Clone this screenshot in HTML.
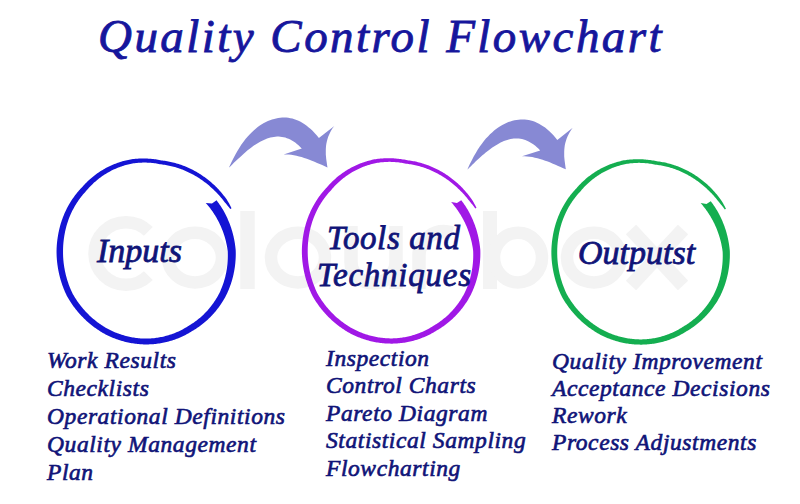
<!DOCTYPE html>
<html><head><meta charset="utf-8">
<style>
html,body{margin:0;padding:0;background:#fff;}
body{width:800px;height:504px;position:relative;overflow:hidden;font-family:"Liberation Serif",serif;}
.t{position:absolute;white-space:nowrap;font-style:italic;line-height:1;}
svg{position:absolute;left:0;top:0;}
.title{color:#16169c;letter-spacing:2.45px;-webkit-text-stroke:0.85px #16169c;}
.lbl{color:#101478;-webkit-text-stroke:0.8px #101478;}
.lst{color:#101478;letter-spacing:0.58px;-webkit-text-stroke:0.65px #101478;}
.lst div{height:27.8px;}
</style></head><body>
<svg width="800" height="504" viewBox="0 0 800 504">
<g fill="none" stroke="#f3f3f3" stroke-width="12.5" stroke-linecap="butt"><path d="M148.3 275.6 A31.5 31.3 0 1 1 148.3 231.4"/><ellipse cx="195" cy="257.6" rx="27" ry="24.8"/><ellipse cx="298" cy="257.6" rx="27" ry="24.8"/><ellipse cx="594" cy="257.6" rx="27" ry="24.8"/><path d="M247.5 211 V289" stroke-width="14.5"/><path d="M351 226 V262 A22.5 21 0 0 0 396 262 V226 M396 262 V289" stroke-width="13.5"/><path d="M419 289 V256 A25 24 0 0 1 452 233" stroke-width="13.5"/><path d="M490 211 V289" stroke-width="14"/><ellipse cx="518" cy="257.6" rx="24" ry="24.8"/><path d="M631 229.5 L683 285.5 M683 229.5 L631 285.5" stroke-width="14"/></g>
<path transform="translate(0 0)" d="M229.2 167.1 L231.2 162.7 L233.3 158.5 L235.3 154.7 L237.4 151.1 L239.4 147.7 L241.4 144.6 L243.5 141.8 L245.5 139.1 L247.5 136.7 L249.6 134.5 L251.6 132.4 L253.7 130.5 L255.7 128.7 L257.7 127.1 L259.8 125.6 L261.8 124.3 L263.9 123.1 L265.9 122.0 L267.9 121.0 L270.0 120.2 L272.0 119.5 L274.1 118.9 L276.1 118.4 L278.1 118.0 L280.2 117.8 L282.2 117.6 L284.2 117.6 L286.3 117.6 L288.3 117.8 L290.4 118.2 L292.4 118.6 L294.4 119.2 L296.5 119.9 L298.5 120.8 L300.6 121.8 L302.6 123.0 L304.6 124.3 L306.7 125.7 L308.7 127.4 L310.7 129.1 L312.8 131.1 L314.8 133.2 L316.9 135.5 L318.9 138.0 L334.3 125.9 L334.3 125.9 L332.7 128.1 L331.3 130.3 L330.1 132.5 L329.1 134.7 L328.2 136.8 L327.5 139.0 L326.9 141.2 L326.4 143.4 L326.1 145.6 L325.9 147.8 L325.8 150.0 L325.8 152.2 L325.8 154.4 L326.0 156.6 L326.2 158.7 L326.5 160.9 L326.8 163.1 L327.1 165.3 L327.5 167.5 L327.4 167.4 L324.8 166.3 L322.2 165.1 L319.7 164.0 L317.1 162.9 L314.5 161.8 L311.9 160.7 L309.4 159.7 L306.8 158.8 L304.2 157.9 L301.6 157.1 L299.1 156.4 L296.5 155.8 L293.9 155.2 L291.3 154.8 L288.8 154.5 L286.2 154.4 L283.6 154.4 L301.8 148.5 L301.8 148.6 L300.2 146.9 L298.5 145.3 L296.9 143.9 L295.2 142.6 L293.6 141.5 L291.9 140.5 L290.2 139.6 L288.6 138.8 L286.9 138.2 L285.3 137.6 L283.6 137.2 L282.0 136.9 L280.4 136.7 L278.7 136.6 L277.1 136.6 L275.4 136.7 L273.8 136.9 L272.1 137.2 L270.4 137.6 L268.8 138.0 L267.1 138.6 L265.5 139.2 L263.9 139.9 L262.2 140.7 L260.6 141.6 L258.9 142.5 L257.2 143.5 L255.6 144.5 L253.9 145.6 L252.3 146.8 L250.7 148.0 L249.0 149.3 L247.3 150.6 L245.7 152.0 L244.0 153.4 L242.4 154.9 L240.8 156.4 L239.1 157.9 L237.4 159.4 L235.8 161.0 L234.1 162.6 L232.5 164.3 L230.8 165.9 L229.2 167.6 Z" fill="#8789d4"/><path transform="translate(238.4 1.9)" d="M229.2 167.1 L231.2 162.7 L233.3 158.5 L235.3 154.7 L237.4 151.1 L239.4 147.7 L241.4 144.6 L243.5 141.8 L245.5 139.1 L247.5 136.7 L249.6 134.5 L251.6 132.4 L253.7 130.5 L255.7 128.7 L257.7 127.1 L259.8 125.6 L261.8 124.3 L263.9 123.1 L265.9 122.0 L267.9 121.0 L270.0 120.2 L272.0 119.5 L274.1 118.9 L276.1 118.4 L278.1 118.0 L280.2 117.8 L282.2 117.6 L284.2 117.6 L286.3 117.6 L288.3 117.8 L290.4 118.2 L292.4 118.6 L294.4 119.2 L296.5 119.9 L298.5 120.8 L300.6 121.8 L302.6 123.0 L304.6 124.3 L306.7 125.7 L308.7 127.4 L310.7 129.1 L312.8 131.1 L314.8 133.2 L316.9 135.5 L318.9 138.0 L334.3 125.9 L334.3 125.9 L332.7 128.1 L331.3 130.3 L330.1 132.5 L329.1 134.7 L328.2 136.8 L327.5 139.0 L326.9 141.2 L326.4 143.4 L326.1 145.6 L325.9 147.8 L325.8 150.0 L325.8 152.2 L325.8 154.4 L326.0 156.6 L326.2 158.7 L326.5 160.9 L326.8 163.1 L327.1 165.3 L327.5 167.5 L327.4 167.4 L324.8 166.3 L322.2 165.1 L319.7 164.0 L317.1 162.9 L314.5 161.8 L311.9 160.7 L309.4 159.7 L306.8 158.8 L304.2 157.9 L301.6 157.1 L299.1 156.4 L296.5 155.8 L293.9 155.2 L291.3 154.8 L288.8 154.5 L286.2 154.4 L283.6 154.4 L301.8 148.5 L301.8 148.6 L300.2 146.9 L298.5 145.3 L296.9 143.9 L295.2 142.6 L293.6 141.5 L291.9 140.5 L290.2 139.6 L288.6 138.8 L286.9 138.2 L285.3 137.6 L283.6 137.2 L282.0 136.9 L280.4 136.7 L278.7 136.6 L277.1 136.6 L275.4 136.7 L273.8 136.9 L272.1 137.2 L270.4 137.6 L268.8 138.0 L267.1 138.6 L265.5 139.2 L263.9 139.9 L262.2 140.7 L260.6 141.6 L258.9 142.5 L257.2 143.5 L255.6 144.5 L253.9 145.6 L252.3 146.8 L250.7 148.0 L249.0 149.3 L247.3 150.6 L245.7 152.0 L244.0 153.4 L242.4 154.9 L240.8 156.4 L239.1 157.9 L237.4 159.4 L235.8 161.0 L234.1 162.6 L232.5 164.3 L230.8 165.9 L229.2 167.6 Z" fill="#8789d4"/>
<path d="M216.58 200.37 L217.26 201.26 L217.93 202.15 L218.58 203.05 L219.23 203.96 L219.87 204.88 L220.50 205.80 L221.12 206.73 L221.72 207.69 L222.31 208.65 L222.88 209.62 L223.44 210.59 L223.98 211.56 L224.52 212.55 L225.05 213.54 L225.56 214.54 L226.06 215.54 L226.56 216.56 L227.04 217.57 L227.51 218.60 L227.96 219.63 L228.41 220.66 L228.84 221.70 L229.27 222.75 L229.68 223.80 L230.07 224.86 L230.46 225.93 L230.84 226.99 L231.20 228.07 L231.54 229.15 L231.88 230.24 L232.20 231.33 L232.51 232.42 L232.80 233.52 L233.09 234.63 L233.36 235.73 L233.62 236.85 L233.86 237.96 L234.10 239.08 L234.32 240.21 L234.52 241.34 L234.72 242.47 L234.90 243.60 L235.07 244.74 L235.22 245.88 L235.36 247.03 L235.49 248.17 L235.61 249.32 L235.71 250.55 L235.76 251.88 L235.77 253.03 L235.77 254.19 L235.76 255.34 L235.73 256.50 L235.69 257.65 L235.63 258.81 L235.56 259.96 L235.48 261.12 L235.38 262.27 L235.27 263.42 L235.15 264.58 L235.01 265.73 L234.86 266.88 L234.69 268.03 L234.51 269.18 L234.31 270.32 L234.11 271.47 L233.88 272.61 L233.64 273.75 L233.39 274.89 L233.13 276.03 L232.85 277.16 L232.55 278.29 L232.24 279.42 L231.92 280.55 L231.58 281.67 L231.23 282.79 L230.87 283.90 L230.49 285.01 L230.09 286.12 L229.68 287.22 L229.26 288.32 L228.82 289.41 L228.37 290.50 L227.90 291.58 L227.42 292.66 L226.93 293.73 L226.42 294.80 L225.90 295.86 L225.32 296.98 L224.74 298.02 L224.15 299.05 L223.55 300.06 L222.93 301.08 L222.31 302.08 L221.66 303.07 L221.01 304.06 L220.34 305.04 L219.66 306.01 L218.96 306.97 L218.25 307.92 L217.53 308.87 L216.80 309.80 L216.05 310.72 L215.29 311.64 L214.52 312.54 L213.73 313.43 L212.94 314.32 L212.13 315.19 L211.31 316.05 L210.48 316.91 L209.64 317.75 L208.78 318.58 L207.92 319.40 L207.04 320.21 L206.16 321.00 L205.26 321.79 L204.35 322.56 L203.43 323.32 L202.50 324.07 L201.56 324.80 L200.61 325.52 L199.64 326.23 L198.67 326.92 L197.69 327.60 L196.70 328.27 L195.70 328.92 L194.69 329.56 L193.67 330.19 L192.65 330.80 L191.76 331.34 L190.74 331.98 L189.71 332.59 L188.68 333.19 L187.63 333.78 L186.58 334.36 L185.52 334.92 L184.45 335.46 L183.37 335.99 L182.29 336.50 L181.19 337.00 L180.09 337.48 L178.98 337.95 L177.87 338.40 L176.75 338.84 L175.62 339.26 L174.49 339.67 L173.35 340.05 L172.20 340.43 L171.05 340.78 L169.89 341.12 L168.73 341.45 L167.57 341.75 L166.40 342.04 L165.22 342.32 L164.04 342.58 L162.86 342.82 L161.68 343.04 L160.49 343.25 L159.30 343.44 L158.10 343.61 L156.90 343.77 L155.71 343.91 L154.51 344.03 L153.30 344.14 L152.10 344.23 L150.90 344.30 L149.69 344.36 L148.48 344.40 L147.28 344.42 L146.06 344.42 L144.84 344.41 L143.64 344.38 L142.43 344.33 L141.23 344.27 L140.02 344.19 L138.82 344.09 L137.62 343.98 L136.42 343.85 L135.23 343.71 L134.03 343.54 L132.84 343.36 L131.66 343.17 L130.47 342.96 L129.29 342.73 L128.11 342.49 L126.94 342.23 L125.76 341.96 L124.60 341.66 L123.44 341.36 L122.28 341.04 L121.13 340.70 L119.98 340.35 L118.84 339.98 L117.70 339.60 L116.57 339.20 L115.44 338.79 L114.32 338.36 L113.21 337.92 L112.10 337.47 L111.00 337.00 L109.90 336.51 L108.82 336.01 L107.74 335.50 L106.63 334.96 L105.56 334.39 L104.51 333.82 L103.47 333.23 L102.44 332.63 L101.41 332.02 L100.40 331.40 L99.39 330.76 L98.39 330.11 L97.41 329.45 L96.43 328.78 L95.45 328.09 L94.49 327.40 L93.54 326.69 L92.60 325.97 L91.67 325.24 L90.74 324.50 L89.83 323.75 L88.93 322.98 L88.03 322.21 L87.15 321.42 L86.28 320.63 L85.41 319.82 L84.56 319.01 L83.72 318.18 L82.89 317.35 L82.07 316.51 L81.25 315.65 L80.45 314.79 L79.66 313.92 L78.88 313.04 L78.12 312.15 L77.36 311.25 L76.61 310.34 L75.88 309.43 L75.15 308.51 L74.44 307.58 L73.74 306.64 L73.05 305.69 L72.37 304.74 L71.70 303.77 L71.05 302.80 L70.40 301.83 L69.77 300.84 L69.15 299.85 L68.54 298.86 L67.94 297.85 L67.36 296.84 L66.74 295.65 L66.24 294.59 L65.74 293.53 L65.26 292.47 L64.80 291.40 L64.34 290.33 L63.90 289.25 L63.47 288.17 L63.06 287.08 L62.65 285.99 L62.26 284.90 L61.89 283.80 L61.52 282.70 L61.17 281.60 L60.83 280.49 L60.51 279.38 L60.19 278.26 L59.89 277.15 L59.61 276.03 L59.33 274.91 L59.07 273.78 L58.82 272.66 L58.59 271.53 L58.36 270.40 L58.16 269.27 L57.96 268.14 L57.77 267.00 L57.60 265.87 L57.44 264.73 L57.29 263.59 L57.16 262.44 L57.03 261.30 L56.93 260.16 L56.83 259.01 L56.75 257.87 L56.68 256.72 L56.63 255.57 L56.59 254.42 L56.56 253.28 L56.54 252.13 L56.54 250.98 L56.57 249.83 L56.60 248.68 L56.65 247.54 L56.72 246.39 L56.79 245.25 L56.88 244.10 L56.99 242.96 L57.10 241.82 L57.24 240.68 L57.38 239.54 L57.54 238.40 L57.71 237.27 L57.89 236.13 L58.08 235.04 L58.28 233.90 L58.49 232.78 L58.72 231.65 L58.96 230.52 L59.22 229.40 L59.49 228.29 L59.77 227.17 L60.06 226.06 L60.37 224.95 L60.70 223.84 L61.03 222.74 L61.38 221.64 L61.75 220.55 L62.13 219.46 L62.52 218.38 L62.92 217.29 L63.34 216.22 L63.78 215.15 L64.22 214.08 L64.68 213.02 L65.16 211.97 L65.64 210.92 L66.15 209.88 L66.66 208.84 L67.19 207.81 L67.73 206.78 L68.29 205.77 L68.85 204.76 L69.44 203.75 L70.03 202.76 L70.64 201.77 L71.26 200.79 L71.89 199.82 L72.54 198.85 L73.20 197.90 L73.88 196.95 L74.56 196.01 L75.26 195.08 L75.97 194.16 L76.70 193.25 L77.43 192.35 L78.18 191.45 L78.94 190.57 L79.71 189.70 L80.50 188.84 L81.30 187.99 L82.03 187.22 L82.75 186.40 L83.53 185.53 L84.32 184.67 L85.13 183.82 L85.95 182.98 L86.79 182.15 L87.63 181.33 L88.49 180.52 L89.36 179.72 L90.24 178.94 L91.13 178.16 L92.03 177.40 L92.95 176.65 L93.87 175.92 L94.81 175.19 L95.76 174.48 L96.72 173.78 L97.68 173.10 L98.66 172.43 L99.65 171.77 L100.65 171.12 L101.66 170.49 L102.68 169.88 L103.70 169.28 L104.74 168.69 L105.78 168.11 L106.84 167.56 L107.90 167.01 L108.97 166.48 L110.05 165.97 L111.13 165.47 L112.22 164.99 L113.32 164.52 L114.43 164.07 L115.54 163.63 L116.66 163.21 L117.79 162.81 L118.92 162.42 L120.06 162.05 L121.20 161.69 L122.35 161.35 L123.51 161.03 L124.67 160.72 L125.83 160.43 L127.00 160.16 L128.17 159.90 L129.34 159.66 L130.59 159.44 L131.78 159.28 L132.97 159.12 L134.16 158.99 L135.35 158.87 L136.55 158.77 L137.74 158.69 L138.93 158.62 L140.13 158.57 L141.32 158.54 L142.52 158.53 L143.71 158.53 L144.91 158.55 L146.10 158.58 L147.29 158.62 L148.49 158.68 L149.68 158.75 L150.86 158.84 L152.05 158.94 L153.23 159.06 L154.42 159.20 L155.60 159.36 L156.77 159.53 L157.95 159.72 L159.12 159.92 L160.29 160.14 L161.45 160.38 L162.42 160.54 L163.60 160.68 L164.78 160.85 L165.95 161.03 L167.13 161.23 L168.30 161.44 L169.47 161.67 L170.64 161.92 L171.80 162.18 L172.96 162.46 L174.12 162.75 L175.28 163.06 L176.43 163.39 L177.58 163.73 L178.72 164.08 L179.86 164.46 L181.00 164.84 L182.13 165.25 L183.26 165.66 L184.38 166.10 L185.49 166.54 L186.61 167.01 L187.71 167.48 L188.81 167.98 L189.90 168.48 L190.99 169.00 L192.07 169.54 L193.15 170.09 L194.21 170.66 L195.27 171.24 L196.33 171.83 L197.37 172.44 L198.41 173.07 L199.44 173.70 L200.46 174.35 L201.48 175.02 L202.49 175.69 L203.48 176.38 L204.48 177.08 L205.46 177.80 L206.43 178.52 L207.40 179.26 L208.36 180.02 L209.30 180.78 L210.24 181.56 L211.17 182.35 L212.09 183.15 L213.01 183.96 L213.91 184.78 L214.80 185.62 L215.68 186.47 L216.56 187.33 L217.41 188.21 L218.25 189.10 L219.08 190.00 L219.90 190.92 L220.70 191.84 L221.50 192.78 L222.29 193.72 L223.07 194.68 L223.83 195.64 L224.58 196.62 L225.33 197.60 L226.06 198.59 L226.78 199.60 L227.45 200.63 L228.07 201.71 L228.68 202.79 L229.28 203.87 L229.86 204.97 L230.43 206.07 L230.99 207.18 L231.53 208.29 L230.24 209.06 L229.51 208.07 L228.76 207.10 L228.01 206.13 L227.24 205.18 L226.47 204.23 L225.68 203.30 L224.89 202.38 L224.13 201.44 L223.39 200.48 L222.64 199.54 L221.88 198.61 L221.10 197.68 L220.32 196.77 L219.53 195.87 L218.73 194.98 L217.92 194.10 L217.10 193.23 L216.26 192.37 L215.42 191.53 L214.57 190.69 L213.72 189.86 L212.86 189.04 L212.00 188.22 L211.12 187.42 L210.24 186.63 L209.35 185.85 L208.45 185.08 L207.54 184.33 L206.62 183.58 L205.69 182.85 L204.76 182.13 L203.81 181.42 L202.86 180.73 L201.90 180.05 L200.93 179.38 L199.96 178.72 L198.98 178.08 L197.99 177.45 L196.99 176.83 L195.99 176.23 L194.97 175.64 L193.96 175.06 L192.93 174.50 L191.90 173.95 L190.86 173.41 L189.82 172.89 L188.78 172.38 L187.72 171.88 L186.66 171.40 L185.60 170.93 L184.53 170.47 L183.45 170.03 L182.37 169.61 L181.29 169.20 L180.20 168.80 L179.11 168.42 L178.01 168.06 L176.91 167.71 L175.80 167.37 L174.69 167.05 L173.58 166.74 L172.46 166.46 L171.35 166.18 L170.22 165.92 L169.10 165.68 L167.97 165.45 L166.84 165.24 L165.71 165.05 L164.58 164.86 L163.45 164.70 L162.31 164.55 L161.01 164.37 L159.86 164.13 L158.74 163.92 L157.61 163.72 L156.48 163.53 L155.35 163.36 L154.22 163.21 L153.08 163.07 L151.94 162.95 L150.80 162.85 L149.66 162.76 L148.51 162.68 L147.37 162.63 L146.22 162.59 L145.07 162.57 L143.92 162.58 L142.78 162.60 L141.63 162.64 L140.48 162.69 L139.34 162.76 L138.19 162.85 L137.05 162.95 L135.91 163.07 L134.77 163.21 L133.63 163.36 L132.49 163.53 L131.36 163.72 L130.30 163.92 L129.18 164.17 L128.07 164.44 L126.96 164.73 L125.85 165.03 L124.75 165.35 L123.66 165.68 L122.57 166.03 L121.48 166.40 L120.41 166.78 L119.34 167.17 L118.27 167.58 L117.21 168.01 L116.16 168.45 L115.12 168.90 L114.08 169.37 L113.05 169.86 L112.03 170.36 L111.02 170.87 L110.01 171.40 L109.02 171.94 L108.03 172.49 L107.05 173.06 L106.08 173.64 L105.12 174.24 L104.17 174.85 L103.23 175.47 L102.30 176.11 L101.38 176.75 L100.47 177.41 L99.57 178.09 L98.68 178.77 L97.80 179.47 L96.93 180.18 L96.07 180.90 L95.23 181.63 L94.39 182.37 L93.57 183.12 L92.76 183.89 L91.96 184.66 L91.17 185.45 L90.39 186.24 L89.63 187.05 L88.88 187.86 L88.14 188.69 L87.41 189.52 L86.70 190.37 L85.85 191.34 L85.10 192.14 L84.37 192.96 L83.64 193.79 L82.93 194.62 L82.23 195.47 L81.54 196.32 L80.86 197.18 L80.19 198.06 L79.54 198.94 L78.90 199.83 L78.27 200.72 L77.65 201.63 L77.05 202.54 L76.45 203.46 L75.88 204.39 L75.31 205.33 L74.75 206.27 L74.21 207.22 L73.68 208.18 L73.17 209.14 L72.66 210.11 L72.17 211.09 L71.70 212.07 L71.23 213.05 L70.78 214.05 L70.34 215.05 L69.92 216.05 L69.50 217.06 L69.10 218.07 L68.72 219.09 L68.35 220.11 L67.99 221.14 L67.64 222.17 L67.30 223.20 L66.98 224.24 L66.68 225.28 L66.38 226.33 L66.10 227.38 L65.83 228.43 L65.58 229.48 L65.34 230.54 L65.11 231.60 L64.89 232.66 L64.69 233.73 L64.50 234.79 L64.32 235.86 L64.15 236.97 L63.99 238.04 L63.84 239.11 L63.70 240.18 L63.58 241.26 L63.47 242.34 L63.37 243.41 L63.28 244.49 L63.21 245.57 L63.15 246.65 L63.10 247.74 L63.07 248.82 L63.05 249.90 L63.04 250.98 L63.04 252.07 L63.04 253.15 L63.06 254.23 L63.09 255.32 L63.13 256.40 L63.19 257.48 L63.26 258.56 L63.34 259.65 L63.43 260.73 L63.54 261.81 L63.66 262.89 L63.79 263.97 L63.94 265.04 L64.09 266.12 L64.26 267.20 L64.45 268.27 L64.64 269.35 L64.84 270.42 L65.06 271.49 L65.29 272.56 L65.53 273.62 L65.78 274.69 L66.05 275.75 L66.33 276.80 L66.62 277.86 L66.92 278.91 L67.24 279.96 L67.57 281.01 L67.91 282.05 L68.26 283.10 L68.62 284.13 L69.00 285.17 L69.39 286.20 L69.79 287.23 L70.21 288.25 L70.63 289.27 L71.07 290.28 L71.52 291.29 L71.99 292.30 L72.46 293.30 L72.91 294.13 L73.46 295.09 L74.02 296.04 L74.60 296.99 L75.18 297.93 L75.78 298.87 L76.39 299.79 L77.01 300.71 L77.64 301.63 L78.28 302.53 L78.93 303.43 L79.59 304.32 L80.27 305.21 L80.95 306.08 L81.65 306.95 L82.35 307.81 L83.07 308.66 L83.80 309.51 L84.53 310.34 L85.28 311.17 L86.04 311.98 L86.81 312.79 L87.59 313.58 L88.38 314.37 L89.18 315.15 L89.99 315.92 L90.82 316.68 L91.65 317.43 L92.49 318.17 L93.34 318.90 L94.19 319.62 L95.06 320.32 L95.94 321.02 L96.83 321.71 L97.72 322.38 L98.63 323.05 L99.54 323.70 L100.46 324.35 L101.39 324.98 L102.33 325.60 L103.28 326.21 L104.24 326.80 L105.20 327.39 L106.17 327.96 L107.15 328.52 L108.14 329.06 L109.14 329.60 L110.10 330.08 L111.11 330.57 L112.14 331.05 L113.17 331.51 L114.21 331.96 L115.25 332.39 L116.30 332.81 L117.36 333.22 L118.42 333.62 L119.48 334.00 L120.55 334.36 L121.63 334.71 L122.71 335.05 L123.80 335.37 L124.89 335.68 L125.98 335.97 L127.08 336.25 L128.19 336.51 L129.29 336.76 L130.40 336.99 L131.52 337.21 L132.63 337.41 L133.75 337.60 L134.88 337.77 L136.00 337.93 L137.13 338.07 L138.26 338.19 L139.39 338.30 L140.52 338.39 L141.65 338.47 L142.79 338.53 L143.92 338.58 L145.06 338.61 L146.17 338.62 L147.31 338.60 L148.44 338.57 L149.58 338.52 L150.71 338.45 L151.84 338.36 L152.97 338.27 L154.10 338.15 L155.23 338.02 L156.35 337.87 L157.47 337.71 L158.59 337.53 L159.71 337.33 L160.82 337.12 L161.93 336.90 L163.04 336.65 L164.14 336.40 L165.24 336.12 L166.33 335.83 L167.42 335.53 L168.50 335.21 L169.58 334.87 L170.66 334.52 L171.72 334.16 L172.79 333.78 L173.84 333.38 L174.89 332.97 L175.93 332.54 L176.97 332.10 L178.00 331.65 L179.02 331.18 L180.04 330.70 L181.04 330.20 L182.04 329.69 L183.03 329.16 L184.02 328.62 L184.99 328.07 L185.96 327.50 L186.91 326.92 L187.86 326.33 L188.84 325.70 L189.88 325.06 L190.83 324.48 L191.77 323.87 L192.70 323.26 L193.62 322.63 L194.53 321.99 L195.44 321.34 L196.33 320.68 L197.22 320.00 L198.09 319.31 L198.96 318.61 L199.81 317.89 L200.66 317.17 L201.49 316.43 L202.31 315.68 L203.12 314.92 L203.93 314.15 L204.72 313.37 L205.50 312.58 L206.27 311.78 L207.02 310.96 L207.76 310.14 L208.49 309.30 L209.21 308.45 L209.92 307.60 L210.61 306.74 L211.29 305.86 L211.96 304.98 L212.62 304.09 L213.27 303.19 L213.90 302.29 L214.52 301.37 L215.13 300.45 L215.72 299.52 L216.30 298.58 L216.87 297.64 L217.43 296.68 L217.97 295.73 L218.50 294.76 L219.02 293.79 L219.47 292.88 L219.94 291.88 L220.40 290.88 L220.84 289.87 L221.26 288.86 L221.68 287.85 L222.08 286.83 L222.47 285.80 L222.84 284.77 L223.20 283.74 L223.55 282.70 L223.88 281.66 L224.20 280.62 L224.50 279.58 L224.80 278.53 L225.08 277.47 L225.34 276.42 L225.59 275.36 L225.83 274.30 L226.06 273.24 L226.27 272.18 L226.46 271.12 L226.65 270.05 L226.82 268.98 L226.98 267.91 L227.12 266.84 L227.25 265.77 L227.37 264.70 L227.48 263.63 L227.57 262.56 L227.65 261.49 L227.71 260.41 L227.77 259.34 L227.81 258.27 L227.83 257.20 L227.85 256.13 L227.85 255.05 L227.83 253.98 L227.81 252.91 L227.77 251.85 L227.71 251.03 L227.57 249.97 L227.41 248.91 L227.24 247.86 L227.06 246.81 L226.87 245.76 L226.66 244.72 L226.44 243.68 L226.21 242.65 L225.97 241.62 L225.72 240.59 L225.45 239.57 L225.18 238.56 L224.89 237.55 L224.59 236.54 L224.28 235.54 L223.95 234.55 L223.62 233.56 L223.28 232.57 L222.92 231.59 L222.56 230.62 L222.18 229.65 L221.80 228.69 L221.40 227.73 L221.00 226.78 L220.58 225.83 L220.16 224.89 L219.72 223.96 L219.27 223.03 L218.82 222.11 L218.35 221.20 L217.87 220.29 L217.38 219.39 L216.89 218.50 L216.38 217.61 L215.86 216.73 L215.34 215.86 L214.80 214.99 L214.25 214.13 L213.70 213.28 L213.14 212.45 L212.58 211.61 L212.00 210.78 L211.42 209.95 L210.83 209.13 L210.22 208.32 L209.61 207.52 L208.99 206.73 L208.36 205.94 L207.72 205.16 L207.08 204.39 L206.42 203.63 L205.76 202.88 L211.97 203.43Z" fill="#1414d4"/><path d="M461.19 200.18 L461.86 201.06 L462.53 201.95 L463.19 202.84 L463.83 203.75 L464.47 204.66 L465.09 205.58 L465.71 206.50 L466.31 207.46 L466.89 208.41 L467.46 209.37 L468.02 210.33 L468.57 211.30 L469.10 212.28 L469.63 213.27 L470.14 214.26 L470.64 215.26 L471.13 216.27 L471.61 217.28 L472.08 218.30 L472.54 219.32 L472.99 220.35 L473.42 221.39 L473.84 222.43 L474.25 223.47 L474.65 224.53 L475.04 225.59 L475.41 226.65 L475.77 227.72 L476.12 228.79 L476.45 229.87 L476.78 230.96 L477.09 232.05 L477.38 233.14 L477.67 234.24 L477.94 235.34 L478.20 236.45 L478.45 237.56 L478.68 238.68 L478.90 239.79 L479.11 240.92 L479.31 242.04 L479.49 243.17 L479.66 244.31 L479.82 245.44 L479.96 246.58 L480.09 247.72 L480.21 248.87 L480.32 250.09 L480.36 251.39 L480.37 252.54 L480.37 253.69 L480.36 254.84 L480.34 255.99 L480.30 257.14 L480.24 258.29 L480.17 259.44 L480.09 260.59 L480.00 261.74 L479.89 262.89 L479.76 264.04 L479.63 265.18 L479.48 266.33 L479.31 267.48 L479.13 268.62 L478.94 269.76 L478.73 270.90 L478.51 272.04 L478.28 273.18 L478.03 274.31 L477.76 275.44 L477.48 276.57 L477.19 277.70 L476.89 278.83 L476.56 279.95 L476.23 281.06 L475.88 282.18 L475.52 283.29 L475.14 284.40 L474.75 285.50 L474.34 286.60 L473.92 287.69 L473.49 288.78 L473.04 289.86 L472.57 290.94 L472.10 292.02 L471.61 293.09 L471.10 294.15 L470.58 295.21 L470.01 296.32 L469.43 297.35 L468.85 298.37 L468.25 299.39 L467.64 300.39 L467.01 301.39 L466.37 302.39 L465.72 303.37 L465.05 304.35 L464.37 305.31 L463.68 306.27 L462.98 307.22 L462.26 308.16 L461.53 309.09 L460.79 310.01 L460.03 310.92 L459.26 311.82 L458.48 312.72 L457.69 313.60 L456.88 314.47 L456.07 315.33 L455.24 316.18 L454.40 317.02 L453.55 317.85 L452.69 318.66 L451.82 319.47 L450.94 320.26 L450.04 321.04 L449.14 321.81 L448.22 322.57 L447.30 323.31 L446.36 324.05 L445.41 324.76 L444.45 325.47 L443.49 326.16 L442.51 326.84 L441.52 327.50 L440.53 328.16 L439.52 328.79 L438.51 329.42 L437.49 330.02 L436.59 330.58 L435.57 331.21 L434.55 331.82 L433.52 332.42 L432.48 333.01 L431.43 333.58 L430.37 334.14 L429.31 334.68 L428.23 335.21 L427.15 335.72 L426.06 336.22 L424.97 336.70 L423.86 337.17 L422.75 337.62 L421.64 338.05 L420.51 338.47 L419.38 338.88 L418.25 339.26 L417.11 339.64 L415.96 339.99 L414.81 340.33 L413.65 340.65 L412.49 340.96 L411.32 341.25 L410.15 341.53 L408.98 341.78 L407.80 342.02 L406.62 342.25 L405.44 342.45 L404.25 342.65 L403.06 342.82 L401.87 342.98 L400.67 343.12 L399.48 343.24 L398.28 343.35 L397.08 343.44 L395.88 343.51 L394.68 343.57 L393.48 343.60 L392.27 343.63 L391.06 343.63 L389.85 343.62 L388.65 343.59 L387.44 343.54 L386.24 343.48 L385.05 343.40 L383.85 343.30 L382.65 343.19 L381.46 343.06 L380.27 342.92 L379.08 342.75 L377.89 342.58 L376.70 342.38 L375.52 342.17 L374.35 341.94 L373.17 341.70 L372.00 341.44 L370.83 341.17 L369.67 340.88 L368.51 340.58 L367.36 340.26 L366.21 339.92 L365.07 339.57 L363.93 339.20 L362.79 338.82 L361.67 338.43 L360.54 338.01 L359.43 337.59 L358.32 337.15 L357.21 336.70 L356.12 336.23 L355.03 335.74 L353.94 335.25 L352.87 334.74 L351.77 334.20 L350.70 333.63 L349.65 333.06 L348.62 332.48 L347.59 331.88 L346.57 331.27 L345.56 330.65 L344.55 330.01 L343.56 329.37 L342.57 328.71 L341.60 328.04 L340.63 327.35 L339.67 326.66 L338.72 325.95 L337.78 325.24 L336.85 324.51 L335.93 323.77 L335.02 323.02 L334.12 322.26 L333.23 321.48 L332.35 320.70 L331.48 319.91 L330.62 319.11 L329.77 318.29 L328.93 317.47 L328.10 316.64 L327.28 315.80 L326.47 314.95 L325.67 314.08 L324.89 313.22 L324.11 312.34 L323.35 311.45 L322.59 310.56 L321.85 309.65 L321.12 308.74 L320.39 307.82 L319.68 306.89 L318.99 305.96 L318.30 305.01 L317.62 304.06 L316.96 303.10 L316.30 302.14 L315.66 301.16 L315.03 300.18 L314.41 299.19 L313.81 298.20 L313.21 297.20 L312.63 296.19 L312.02 295.02 L311.52 293.96 L311.03 292.91 L310.55 291.85 L310.08 290.78 L309.63 289.71 L309.19 288.63 L308.76 287.55 L308.35 286.47 L307.95 285.39 L307.56 284.29 L307.18 283.20 L306.82 282.10 L306.47 281.00 L306.13 279.90 L305.81 278.79 L305.50 277.68 L305.20 276.57 L304.91 275.45 L304.64 274.34 L304.38 273.21 L304.13 272.09 L303.90 270.97 L303.68 269.84 L303.47 268.72 L303.27 267.59 L303.09 266.45 L302.91 265.32 L302.75 264.19 L302.61 263.05 L302.47 261.91 L302.35 260.77 L302.25 259.63 L302.15 258.49 L302.07 257.35 L302.01 256.20 L301.95 255.06 L301.91 253.92 L301.88 252.77 L301.87 251.63 L301.87 250.48 L301.89 249.34 L301.93 248.19 L301.97 247.05 L302.04 245.91 L302.11 244.77 L302.20 243.63 L302.31 242.49 L302.42 241.35 L302.55 240.21 L302.69 239.08 L302.85 237.94 L303.02 236.81 L303.21 235.68 L303.39 234.59 L303.59 233.46 L303.80 232.33 L304.03 231.21 L304.27 230.09 L304.52 228.97 L304.79 227.86 L305.07 226.75 L305.36 225.64 L305.67 224.53 L305.99 223.43 L306.33 222.33 L306.67 221.24 L307.04 220.15 L307.41 219.06 L307.80 217.98 L308.21 216.90 L308.62 215.83 L309.06 214.76 L309.50 213.70 L309.96 212.64 L310.43 211.59 L310.92 210.54 L311.41 209.51 L311.93 208.47 L312.45 207.44 L312.99 206.42 L313.54 205.41 L314.11 204.40 L314.69 203.40 L315.28 202.41 L315.89 201.42 L316.51 200.45 L317.14 199.48 L317.78 198.51 L318.44 197.56 L319.11 196.62 L319.79 195.68 L320.49 194.75 L321.20 193.83 L321.92 192.93 L322.65 192.03 L323.40 191.14 L324.16 190.26 L324.92 189.39 L325.71 188.53 L326.50 187.68 L327.24 186.91 L327.96 186.09 L328.74 185.22 L329.53 184.36 L330.33 183.51 L331.15 182.67 L331.98 181.84 L332.82 181.02 L333.67 180.21 L334.54 179.42 L335.41 178.64 L336.30 177.86 L337.20 177.10 L338.11 176.36 L339.04 175.62 L339.97 174.90 L340.91 174.19 L341.87 173.49 L342.83 172.81 L343.81 172.14 L344.79 171.48 L345.79 170.84 L346.79 170.21 L347.81 169.59 L348.83 168.99 L349.86 168.40 L350.90 167.83 L351.95 167.27 L353.01 166.73 L354.08 166.20 L355.15 165.69 L356.23 165.19 L357.32 164.70 L358.42 164.24 L359.52 163.79 L360.63 163.35 L361.75 162.93 L362.87 162.52 L364.00 162.14 L365.13 161.76 L366.27 161.41 L367.42 161.07 L368.57 160.74 L369.72 160.44 L370.88 160.14 L372.05 159.87 L373.22 159.61 L374.39 159.37 L375.63 159.16 L376.81 158.99 L378.00 158.84 L379.19 158.70 L380.37 158.58 L381.56 158.48 L382.76 158.40 L383.95 158.33 L385.14 158.28 L386.33 158.25 L387.52 158.23 L388.72 158.23 L389.91 158.25 L391.10 158.28 L392.29 158.32 L393.47 158.37 L394.66 158.45 L395.85 158.54 L397.03 158.64 L398.21 158.76 L399.39 158.90 L400.57 159.06 L401.74 159.23 L402.91 159.41 L404.08 159.62 L405.25 159.84 L406.41 160.07 L407.39 160.23 L408.57 160.38 L409.75 160.55 L410.92 160.73 L412.09 160.93 L413.26 161.14 L414.43 161.37 L415.59 161.61 L416.76 161.87 L417.92 162.15 L419.07 162.45 L420.23 162.75 L421.38 163.08 L422.52 163.42 L423.66 163.77 L424.80 164.15 L425.93 164.53 L427.06 164.93 L428.19 165.35 L429.30 165.78 L430.42 166.23 L431.53 166.69 L432.63 167.17 L433.73 167.66 L434.82 168.16 L435.90 168.68 L436.98 169.22 L438.05 169.77 L439.12 170.33 L440.18 170.91 L441.23 171.51 L442.27 172.11 L443.31 172.74 L444.34 173.37 L445.36 174.02 L446.37 174.68 L447.38 175.35 L448.37 176.04 L449.36 176.74 L450.34 177.45 L451.32 178.18 L452.28 178.92 L453.24 179.67 L454.18 180.43 L455.12 181.21 L456.05 181.99 L456.97 182.79 L457.88 183.60 L458.78 184.43 L459.67 185.26 L460.55 186.10 L461.42 186.96 L462.27 187.84 L463.11 188.73 L463.94 189.63 L464.76 190.54 L465.57 191.46 L466.37 192.39 L467.16 193.34 L467.93 194.29 L468.70 195.25 L469.45 196.22 L470.20 197.20 L470.93 198.19 L471.65 199.19 L472.33 200.22 L472.96 201.29 L473.57 202.36 L474.18 203.44 L474.77 204.53 L475.35 205.62 L475.91 206.72 L476.47 207.83 L475.31 208.52 L474.58 207.53 L473.85 206.54 L473.10 205.57 L472.34 204.61 L471.57 203.66 L470.80 202.72 L470.01 201.79 L469.26 200.84 L468.52 199.88 L467.77 198.94 L467.01 198.00 L466.24 197.08 L465.45 196.16 L464.66 195.26 L463.86 194.36 L463.05 193.48 L462.23 192.61 L461.40 191.75 L460.56 190.90 L459.71 190.06 L458.85 189.23 L457.99 188.40 L457.13 187.58 L456.25 186.78 L455.37 185.99 L454.47 185.20 L453.57 184.44 L452.66 183.68 L451.74 182.93 L450.81 182.20 L449.87 181.48 L448.93 180.77 L447.98 180.07 L447.01 179.39 L446.04 178.72 L445.07 178.06 L444.08 177.41 L443.09 176.78 L442.09 176.16 L441.09 175.56 L440.07 174.97 L439.05 174.39 L438.03 173.82 L436.99 173.27 L435.96 172.73 L434.91 172.21 L433.86 171.69 L432.81 171.20 L431.75 170.71 L430.68 170.24 L429.61 169.79 L428.53 169.35 L427.45 168.92 L426.36 168.51 L425.27 168.11 L424.17 167.73 L423.07 167.37 L421.97 167.01 L420.86 166.68 L419.75 166.36 L418.63 166.05 L417.51 165.76 L416.39 165.49 L415.27 165.23 L414.14 164.98 L413.01 164.76 L411.88 164.54 L410.75 164.35 L409.61 164.17 L408.47 164.00 L407.34 163.85 L406.05 163.68 L404.90 163.44 L403.77 163.22 L402.65 163.02 L401.51 162.83 L400.38 162.66 L399.24 162.51 L398.10 162.37 L396.96 162.25 L395.82 162.15 L394.67 162.06 L393.52 161.98 L392.37 161.93 L391.23 161.89 L390.07 161.87 L388.92 161.87 L387.77 161.89 L386.62 161.93 L385.47 161.98 L384.32 162.05 L383.18 162.14 L382.03 162.24 L380.89 162.36 L379.74 162.50 L378.60 162.65 L377.46 162.82 L376.33 163.00 L375.26 163.20 L374.14 163.46 L373.02 163.73 L371.90 164.01 L370.79 164.31 L369.69 164.63 L368.59 164.96 L367.50 165.31 L366.41 165.68 L365.33 166.06 L364.26 166.45 L363.19 166.86 L362.13 167.29 L361.07 167.73 L360.02 168.18 L358.98 168.65 L357.95 169.14 L356.93 169.64 L355.91 170.15 L354.90 170.68 L353.90 171.22 L352.91 171.78 L351.93 172.35 L350.96 172.93 L349.99 173.53 L349.04 174.14 L348.09 174.76 L347.16 175.40 L346.23 176.04 L345.32 176.71 L344.41 177.38 L343.52 178.06 L342.64 178.76 L341.77 179.47 L340.91 180.19 L340.06 180.93 L339.22 181.67 L338.39 182.43 L337.57 183.19 L336.77 183.97 L335.98 184.76 L335.20 185.55 L334.43 186.36 L333.68 187.18 L332.93 188.00 L332.20 188.84 L331.49 189.68 L330.65 190.64 L329.90 191.45 L329.16 192.27 L328.43 193.10 L327.71 193.94 L327.01 194.78 L326.31 195.64 L325.63 196.51 L324.97 197.38 L324.31 198.27 L323.66 199.16 L323.03 200.06 L322.41 200.97 L321.81 201.88 L321.21 202.81 L320.63 203.74 L320.06 204.68 L319.50 205.62 L318.96 206.58 L318.43 207.54 L317.91 208.50 L317.40 209.47 L316.91 210.45 L316.43 211.44 L315.96 212.43 L315.51 213.42 L315.07 214.43 L314.64 215.43 L314.23 216.44 L313.82 217.46 L313.44 218.48 L313.06 219.51 L312.70 220.54 L312.35 221.57 L312.01 222.61 L311.69 223.65 L311.38 224.70 L311.09 225.74 L310.80 226.80 L310.53 227.85 L310.28 228.91 L310.03 229.97 L309.80 231.03 L309.59 232.10 L309.38 233.17 L309.19 234.24 L309.01 235.31 L308.84 236.42 L308.67 237.49 L308.52 238.57 L308.39 239.64 L308.26 240.72 L308.15 241.80 L308.05 242.88 L307.96 243.97 L307.89 245.05 L307.83 246.14 L307.78 247.22 L307.75 248.31 L307.73 249.39 L307.72 250.48 L307.71 251.57 L307.72 252.65 L307.74 253.74 L307.77 254.83 L307.81 255.91 L307.87 257.00 L307.94 258.09 L308.02 259.17 L308.12 260.26 L308.22 261.34 L308.34 262.43 L308.48 263.51 L308.62 264.59 L308.78 265.67 L308.95 266.75 L309.13 267.83 L309.33 268.91 L309.53 269.98 L309.75 271.06 L309.98 272.13 L310.22 273.20 L310.48 274.26 L310.74 275.33 L311.02 276.39 L311.32 277.45 L311.62 278.50 L311.94 279.56 L312.27 280.61 L312.61 281.65 L312.96 282.70 L313.33 283.74 L313.71 284.78 L314.10 285.81 L314.50 286.84 L314.92 287.87 L315.35 288.89 L315.79 289.91 L316.24 290.92 L316.71 291.93 L317.18 292.94 L317.64 293.78 L318.19 294.74 L318.76 295.70 L319.34 296.65 L319.92 297.60 L320.52 298.53 L321.13 299.46 L321.76 300.39 L322.39 301.30 L323.03 302.21 L323.69 303.11 L324.35 304.01 L325.03 304.89 L325.72 305.77 L326.41 306.64 L327.12 307.50 L327.84 308.36 L328.57 309.20 L329.31 310.04 L330.06 310.87 L330.82 311.69 L331.60 312.50 L332.38 313.30 L333.17 314.09 L333.98 314.87 L334.79 315.64 L335.61 316.40 L336.45 317.15 L337.29 317.89 L338.14 318.62 L339.00 319.35 L339.88 320.06 L340.76 320.76 L341.65 321.45 L342.55 322.12 L343.45 322.79 L344.37 323.45 L345.30 324.09 L346.23 324.72 L347.17 325.35 L348.12 325.96 L349.08 326.55 L350.05 327.14 L351.02 327.71 L352.01 328.27 L353.00 328.82 L354.00 329.36 L354.97 329.85 L355.99 330.34 L357.02 330.81 L358.05 331.28 L359.09 331.73 L360.14 332.17 L361.19 332.59 L362.25 333.00 L363.32 333.39 L364.39 333.77 L365.46 334.14 L366.54 334.49 L367.63 334.83 L368.72 335.15 L369.81 335.46 L370.91 335.76 L372.01 336.03 L373.12 336.30 L374.23 336.55 L375.35 336.78 L376.46 337.00 L377.58 337.20 L378.71 337.39 L379.83 337.56 L380.96 337.72 L382.09 337.86 L383.23 337.98 L384.36 338.09 L385.50 338.19 L386.63 338.26 L387.77 338.32 L388.91 338.37 L390.05 338.40 L391.18 338.41 L392.31 338.39 L393.45 338.36 L394.59 338.31 L395.73 338.24 L396.86 338.16 L398.00 338.06 L399.13 337.94 L400.26 337.81 L401.39 337.66 L402.52 337.50 L403.64 337.32 L404.76 337.13 L405.88 336.92 L406.99 336.69 L408.10 336.45 L409.21 336.19 L410.31 335.92 L411.41 335.63 L412.50 335.32 L413.59 335.00 L414.67 334.66 L415.75 334.31 L416.82 333.95 L417.89 333.56 L418.95 333.17 L420.00 332.76 L421.05 332.33 L422.09 331.89 L423.12 331.43 L424.15 330.96 L425.17 330.48 L426.18 329.98 L427.18 329.46 L428.18 328.94 L429.17 328.40 L430.15 327.84 L431.12 327.27 L432.08 326.69 L433.03 326.09 L434.01 325.47 L435.04 324.84 L436.00 324.25 L436.94 323.64 L437.88 323.03 L438.80 322.40 L439.72 321.76 L440.63 321.10 L441.52 320.43 L442.41 319.75 L443.29 319.06 L444.16 318.36 L445.02 317.64 L445.87 316.91 L446.70 316.17 L447.53 315.42 L448.35 314.66 L449.15 313.89 L449.95 313.10 L450.73 312.31 L451.50 311.50 L452.26 310.69 L453.01 309.86 L453.74 309.02 L454.46 308.17 L455.17 307.31 L455.87 306.45 L456.56 305.57 L457.23 304.69 L457.89 303.79 L458.54 302.89 L459.18 301.98 L459.80 301.06 L460.41 300.14 L461.01 299.21 L461.60 298.26 L462.17 297.32 L462.73 296.36 L463.28 295.40 L463.81 294.43 L464.33 293.46 L464.79 292.53 L465.26 291.53 L465.72 290.53 L466.16 289.52 L466.59 288.50 L467.01 287.48 L467.41 286.46 L467.80 285.43 L468.18 284.40 L468.54 283.36 L468.89 282.32 L469.23 281.28 L469.55 280.23 L469.86 279.18 L470.15 278.13 L470.43 277.07 L470.70 276.01 L470.96 274.95 L471.20 273.89 L471.42 272.82 L471.64 271.76 L471.84 270.69 L472.02 269.62 L472.20 268.55 L472.36 267.47 L472.50 266.40 L472.64 265.32 L472.75 264.25 L472.86 263.17 L472.95 262.09 L473.04 261.02 L473.10 259.94 L473.16 258.86 L473.20 257.79 L473.22 256.71 L473.24 255.63 L473.24 254.56 L473.23 253.48 L473.21 252.41 L473.17 251.33 L473.11 250.49 L472.97 249.43 L472.81 248.36 L472.65 247.30 L472.47 246.25 L472.27 245.20 L472.07 244.15 L471.85 243.10 L471.63 242.06 L471.39 241.03 L471.13 240.00 L470.87 238.97 L470.59 237.95 L470.31 236.94 L470.01 235.93 L469.70 234.92 L469.38 233.92 L469.04 232.92 L468.70 231.93 L468.34 230.95 L467.98 229.97 L467.61 228.99 L467.22 228.02 L466.83 227.06 L466.42 226.10 L466.01 225.15 L465.58 224.21 L465.14 223.27 L464.70 222.34 L464.24 221.41 L463.77 220.49 L463.29 219.58 L462.80 218.67 L462.31 217.77 L461.80 216.88 L461.28 215.99 L460.75 215.11 L460.22 214.24 L459.67 213.38 L459.11 212.52 L458.55 211.68 L457.99 210.84 L457.41 210.00 L456.82 209.17 L456.23 208.34 L455.62 207.53 L455.01 206.72 L454.38 205.92 L453.75 205.13 L453.11 204.35 L452.46 203.57 L451.80 202.81 L451.13 202.05 L456.96 202.91Z" fill="#a018e6"/><path d="M710.69 201.18 L711.36 202.06 L712.03 202.95 L712.69 203.84 L713.33 204.75 L713.97 205.66 L714.59 206.58 L715.21 207.50 L715.81 208.46 L716.39 209.41 L716.96 210.37 L717.52 211.33 L718.07 212.30 L718.60 213.28 L719.13 214.27 L719.64 215.26 L720.14 216.26 L720.63 217.27 L721.11 218.28 L721.58 219.30 L722.04 220.32 L722.49 221.35 L722.92 222.39 L723.34 223.43 L723.75 224.47 L724.15 225.53 L724.54 226.59 L724.91 227.65 L725.27 228.72 L725.62 229.79 L725.95 230.87 L726.28 231.96 L726.59 233.05 L726.88 234.14 L727.17 235.24 L727.44 236.34 L727.70 237.45 L727.95 238.56 L728.18 239.68 L728.40 240.79 L728.61 241.92 L728.81 243.04 L728.99 244.17 L729.16 245.31 L729.32 246.44 L729.46 247.58 L729.59 248.72 L729.71 249.87 L729.82 251.09 L729.86 252.39 L729.87 253.54 L729.87 254.69 L729.86 255.84 L729.84 256.99 L729.80 258.14 L729.74 259.29 L729.67 260.44 L729.59 261.59 L729.50 262.74 L729.39 263.89 L729.26 265.04 L729.13 266.18 L728.98 267.33 L728.81 268.48 L728.63 269.62 L728.44 270.76 L728.23 271.90 L728.01 273.04 L727.78 274.18 L727.53 275.31 L727.26 276.44 L726.98 277.57 L726.69 278.70 L726.39 279.83 L726.06 280.95 L725.73 282.06 L725.38 283.18 L725.02 284.29 L724.64 285.40 L724.25 286.50 L723.84 287.60 L723.42 288.69 L722.99 289.78 L722.54 290.86 L722.07 291.94 L721.60 293.02 L721.11 294.09 L720.60 295.15 L720.08 296.21 L719.51 297.32 L718.93 298.35 L718.35 299.37 L717.75 300.39 L717.14 301.39 L716.51 302.39 L715.87 303.39 L715.22 304.37 L714.55 305.35 L713.87 306.31 L713.18 307.27 L712.48 308.22 L711.76 309.16 L711.03 310.09 L710.29 311.01 L709.53 311.92 L708.76 312.82 L707.98 313.72 L707.19 314.60 L706.38 315.47 L705.57 316.33 L704.74 317.18 L703.90 318.02 L703.05 318.85 L702.19 319.66 L701.32 320.47 L700.44 321.26 L699.54 322.04 L698.64 322.81 L697.72 323.57 L696.80 324.31 L695.86 325.05 L694.91 325.76 L693.95 326.47 L692.99 327.16 L692.01 327.84 L691.02 328.50 L690.03 329.16 L689.02 329.79 L688.01 330.42 L686.99 331.02 L686.09 331.58 L685.07 332.21 L684.05 332.82 L683.02 333.42 L681.98 334.01 L680.93 334.58 L679.87 335.14 L678.81 335.68 L677.73 336.21 L676.65 336.72 L675.56 337.22 L674.47 337.70 L673.36 338.17 L672.25 338.62 L671.14 339.05 L670.01 339.47 L668.88 339.88 L667.75 340.26 L666.61 340.64 L665.46 340.99 L664.31 341.33 L663.15 341.65 L661.99 341.96 L660.82 342.25 L659.65 342.53 L658.48 342.78 L657.30 343.02 L656.12 343.25 L654.94 343.45 L653.75 343.65 L652.56 343.82 L651.37 343.98 L650.17 344.12 L648.98 344.24 L647.78 344.35 L646.58 344.44 L645.38 344.51 L644.18 344.57 L642.98 344.60 L641.77 344.63 L640.56 344.63 L639.35 344.62 L638.15 344.59 L636.94 344.54 L635.74 344.48 L634.55 344.40 L633.35 344.30 L632.15 344.19 L630.96 344.06 L629.77 343.92 L628.58 343.75 L627.39 343.58 L626.20 343.38 L625.02 343.17 L623.85 342.94 L622.67 342.70 L621.50 342.44 L620.33 342.17 L619.17 341.88 L618.01 341.58 L616.86 341.26 L615.71 340.92 L614.57 340.57 L613.43 340.20 L612.29 339.82 L611.17 339.43 L610.04 339.01 L608.93 338.59 L607.82 338.15 L606.71 337.70 L605.62 337.23 L604.53 336.74 L603.44 336.25 L602.37 335.74 L601.27 335.20 L600.20 334.63 L599.15 334.06 L598.12 333.48 L597.09 332.88 L596.07 332.27 L595.06 331.65 L594.05 331.01 L593.06 330.37 L592.07 329.71 L591.10 329.04 L590.13 328.35 L589.17 327.66 L588.22 326.95 L587.28 326.24 L586.35 325.51 L585.43 324.77 L584.52 324.02 L583.62 323.26 L582.73 322.48 L581.85 321.70 L580.98 320.91 L580.12 320.11 L579.27 319.29 L578.43 318.47 L577.60 317.64 L576.78 316.80 L575.97 315.95 L575.17 315.08 L574.39 314.22 L573.61 313.34 L572.85 312.45 L572.09 311.56 L571.35 310.65 L570.62 309.74 L569.89 308.82 L569.18 307.89 L568.49 306.96 L567.80 306.01 L567.12 305.06 L566.46 304.10 L565.80 303.14 L565.16 302.16 L564.53 301.18 L563.91 300.19 L563.31 299.20 L562.71 298.20 L562.13 297.19 L561.52 296.02 L561.02 294.96 L560.53 293.91 L560.05 292.85 L559.58 291.78 L559.13 290.71 L558.69 289.63 L558.26 288.55 L557.85 287.47 L557.45 286.39 L557.06 285.29 L556.68 284.20 L556.32 283.10 L555.97 282.00 L555.63 280.90 L555.31 279.79 L555.00 278.68 L554.70 277.57 L554.41 276.45 L554.14 275.34 L553.88 274.21 L553.63 273.09 L553.40 271.97 L553.18 270.84 L552.97 269.72 L552.77 268.59 L552.59 267.45 L552.41 266.32 L552.25 265.19 L552.11 264.05 L551.97 262.91 L551.85 261.77 L551.75 260.63 L551.65 259.49 L551.57 258.35 L551.51 257.20 L551.45 256.06 L551.41 254.92 L551.38 253.77 L551.37 252.63 L551.37 251.48 L551.39 250.34 L551.43 249.19 L551.47 248.05 L551.54 246.91 L551.61 245.77 L551.70 244.63 L551.81 243.49 L551.92 242.35 L552.05 241.21 L552.19 240.08 L552.35 238.94 L552.52 237.81 L552.71 236.68 L552.89 235.59 L553.09 234.46 L553.30 233.33 L553.53 232.21 L553.77 231.09 L554.02 229.97 L554.29 228.86 L554.57 227.75 L554.86 226.64 L555.17 225.53 L555.49 224.43 L555.83 223.33 L556.17 222.24 L556.54 221.15 L556.91 220.06 L557.30 218.98 L557.71 217.90 L558.12 216.83 L558.56 215.76 L559.00 214.70 L559.46 213.64 L559.93 212.59 L560.42 211.54 L560.91 210.51 L561.43 209.47 L561.95 208.44 L562.49 207.42 L563.04 206.41 L563.61 205.40 L564.19 204.40 L564.78 203.41 L565.39 202.42 L566.01 201.45 L566.64 200.48 L567.28 199.51 L567.94 198.56 L568.61 197.62 L569.29 196.68 L569.99 195.75 L570.70 194.83 L571.42 193.93 L572.15 193.03 L572.90 192.14 L573.66 191.26 L574.42 190.39 L575.21 189.53 L576.00 188.68 L576.74 187.91 L577.46 187.09 L578.24 186.22 L579.03 185.36 L579.83 184.51 L580.65 183.67 L581.48 182.84 L582.32 182.02 L583.17 181.21 L584.04 180.42 L584.91 179.64 L585.80 178.86 L586.70 178.10 L587.61 177.36 L588.54 176.62 L589.47 175.90 L590.41 175.19 L591.37 174.49 L592.33 173.81 L593.31 173.14 L594.29 172.48 L595.29 171.84 L596.29 171.21 L597.31 170.59 L598.33 169.99 L599.36 169.40 L600.40 168.83 L601.45 168.27 L602.51 167.73 L603.58 167.20 L604.65 166.69 L605.73 166.19 L606.82 165.70 L607.92 165.24 L609.02 164.79 L610.13 164.35 L611.25 163.93 L612.37 163.52 L613.50 163.14 L614.63 162.76 L615.77 162.41 L616.92 162.07 L618.07 161.74 L619.22 161.44 L620.38 161.14 L621.55 160.87 L622.72 160.61 L623.89 160.37 L625.13 160.16 L626.31 159.99 L627.50 159.84 L628.69 159.70 L629.87 159.58 L631.06 159.48 L632.26 159.40 L633.45 159.33 L634.64 159.28 L635.83 159.25 L637.02 159.23 L638.22 159.23 L639.41 159.25 L640.60 159.28 L641.79 159.32 L642.97 159.37 L644.16 159.45 L645.35 159.54 L646.53 159.64 L647.71 159.76 L648.89 159.90 L650.07 160.06 L651.24 160.23 L652.41 160.41 L653.58 160.62 L654.75 160.84 L655.91 161.07 L656.89 161.23 L658.07 161.38 L659.25 161.55 L660.42 161.73 L661.59 161.93 L662.76 162.14 L663.93 162.37 L665.09 162.61 L666.26 162.87 L667.42 163.15 L668.57 163.45 L669.73 163.75 L670.88 164.08 L672.02 164.42 L673.16 164.77 L674.30 165.15 L675.43 165.53 L676.56 165.93 L677.69 166.35 L678.80 166.78 L679.92 167.23 L681.03 167.69 L682.13 168.17 L683.23 168.66 L684.32 169.16 L685.40 169.68 L686.48 170.22 L687.55 170.77 L688.62 171.33 L689.68 171.91 L690.73 172.51 L691.77 173.11 L692.81 173.74 L693.84 174.37 L694.86 175.02 L695.87 175.68 L696.88 176.35 L697.87 177.04 L698.86 177.74 L699.84 178.45 L700.82 179.18 L701.78 179.92 L702.74 180.67 L703.68 181.43 L704.62 182.21 L705.55 182.99 L706.47 183.79 L707.38 184.60 L708.28 185.43 L709.17 186.26 L710.05 187.10 L710.92 187.96 L711.77 188.84 L712.61 189.73 L713.44 190.63 L714.26 191.54 L715.07 192.46 L715.87 193.39 L716.66 194.34 L717.43 195.29 L718.20 196.25 L718.95 197.22 L719.70 198.20 L720.43 199.19 L721.15 200.19 L721.83 201.22 L722.46 202.29 L723.07 203.36 L723.68 204.44 L724.27 205.53 L724.85 206.62 L725.41 207.72 L725.97 208.83 L724.81 209.52 L724.08 208.53 L723.35 207.54 L722.60 206.57 L721.84 205.61 L721.07 204.66 L720.30 203.72 L719.51 202.79 L718.76 201.84 L718.02 200.88 L717.27 199.94 L716.51 199.00 L715.74 198.08 L714.95 197.16 L714.16 196.26 L713.36 195.36 L712.55 194.48 L711.73 193.61 L710.90 192.75 L710.06 191.90 L709.21 191.06 L708.35 190.23 L707.49 189.40 L706.63 188.58 L705.75 187.78 L704.87 186.99 L703.97 186.20 L703.07 185.44 L702.16 184.68 L701.24 183.93 L700.31 183.20 L699.37 182.48 L698.43 181.77 L697.48 181.07 L696.51 180.39 L695.54 179.72 L694.57 179.06 L693.58 178.41 L692.59 177.78 L691.59 177.16 L690.59 176.56 L689.57 175.97 L688.55 175.39 L687.53 174.82 L686.49 174.27 L685.46 173.73 L684.41 173.21 L683.36 172.69 L682.31 172.20 L681.25 171.71 L680.18 171.24 L679.11 170.79 L678.03 170.35 L676.95 169.92 L675.86 169.51 L674.77 169.11 L673.67 168.73 L672.57 168.37 L671.47 168.01 L670.36 167.68 L669.25 167.36 L668.13 167.05 L667.01 166.76 L665.89 166.49 L664.77 166.23 L663.64 165.98 L662.51 165.76 L661.38 165.54 L660.25 165.35 L659.11 165.17 L657.97 165.00 L656.84 164.85 L655.55 164.68 L654.40 164.44 L653.27 164.22 L652.15 164.02 L651.01 163.83 L649.88 163.66 L648.74 163.51 L647.60 163.37 L646.46 163.25 L645.32 163.15 L644.17 163.06 L643.02 162.98 L641.87 162.93 L640.73 162.89 L639.57 162.87 L638.42 162.87 L637.27 162.89 L636.12 162.93 L634.97 162.98 L633.82 163.05 L632.68 163.14 L631.53 163.24 L630.39 163.36 L629.24 163.50 L628.10 163.65 L626.96 163.82 L625.83 164.00 L624.76 164.20 L623.64 164.46 L622.52 164.73 L621.40 165.01 L620.29 165.31 L619.19 165.63 L618.09 165.96 L617.00 166.31 L615.91 166.68 L614.83 167.06 L613.76 167.45 L612.69 167.86 L611.63 168.29 L610.57 168.73 L609.52 169.18 L608.48 169.65 L607.45 170.14 L606.43 170.64 L605.41 171.15 L604.40 171.68 L603.40 172.22 L602.41 172.78 L601.43 173.35 L600.46 173.93 L599.49 174.53 L598.54 175.14 L597.59 175.76 L596.66 176.40 L595.73 177.04 L594.82 177.71 L593.91 178.38 L593.02 179.06 L592.14 179.76 L591.27 180.47 L590.41 181.19 L589.56 181.93 L588.72 182.67 L587.89 183.43 L587.07 184.19 L586.27 184.97 L585.48 185.76 L584.70 186.55 L583.93 187.36 L583.18 188.18 L582.43 189.00 L581.70 189.84 L580.99 190.68 L580.15 191.64 L579.40 192.45 L578.66 193.27 L577.93 194.10 L577.21 194.94 L576.51 195.78 L575.81 196.64 L575.13 197.51 L574.47 198.38 L573.81 199.27 L573.16 200.16 L572.53 201.06 L571.91 201.97 L571.31 202.88 L570.71 203.81 L570.13 204.74 L569.56 205.68 L569.00 206.62 L568.46 207.58 L567.93 208.54 L567.41 209.50 L566.90 210.47 L566.41 211.45 L565.93 212.44 L565.46 213.43 L565.01 214.42 L564.57 215.43 L564.14 216.43 L563.73 217.44 L563.32 218.46 L562.94 219.48 L562.56 220.51 L562.20 221.54 L561.85 222.57 L561.51 223.61 L561.19 224.65 L560.88 225.70 L560.59 226.74 L560.30 227.80 L560.03 228.85 L559.78 229.91 L559.53 230.97 L559.30 232.03 L559.09 233.10 L558.88 234.17 L558.69 235.24 L558.51 236.31 L558.34 237.42 L558.17 238.49 L558.02 239.57 L557.89 240.64 L557.76 241.72 L557.65 242.80 L557.55 243.88 L557.46 244.97 L557.39 246.05 L557.33 247.14 L557.28 248.22 L557.25 249.31 L557.23 250.39 L557.22 251.48 L557.21 252.57 L557.22 253.65 L557.24 254.74 L557.27 255.83 L557.31 256.91 L557.37 258.00 L557.44 259.09 L557.52 260.17 L557.62 261.26 L557.72 262.34 L557.84 263.43 L557.98 264.51 L558.12 265.59 L558.28 266.67 L558.45 267.75 L558.63 268.83 L558.83 269.91 L559.03 270.98 L559.25 272.06 L559.48 273.13 L559.72 274.20 L559.98 275.26 L560.24 276.33 L560.52 277.39 L560.82 278.45 L561.12 279.50 L561.44 280.56 L561.77 281.61 L562.11 282.65 L562.46 283.70 L562.83 284.74 L563.21 285.78 L563.60 286.81 L564.00 287.84 L564.42 288.87 L564.85 289.89 L565.29 290.91 L565.74 291.92 L566.21 292.93 L566.68 293.94 L567.14 294.78 L567.69 295.74 L568.26 296.70 L568.84 297.65 L569.42 298.60 L570.02 299.53 L570.63 300.46 L571.26 301.39 L571.89 302.30 L572.53 303.21 L573.19 304.11 L573.85 305.01 L574.53 305.89 L575.22 306.77 L575.91 307.64 L576.62 308.50 L577.34 309.36 L578.07 310.20 L578.81 311.04 L579.56 311.87 L580.32 312.69 L581.10 313.50 L581.88 314.30 L582.67 315.09 L583.48 315.87 L584.29 316.64 L585.11 317.40 L585.95 318.15 L586.79 318.89 L587.64 319.62 L588.50 320.35 L589.38 321.06 L590.26 321.76 L591.15 322.45 L592.05 323.12 L592.95 323.79 L593.87 324.45 L594.80 325.09 L595.73 325.72 L596.67 326.35 L597.62 326.96 L598.58 327.55 L599.55 328.14 L600.52 328.71 L601.51 329.27 L602.50 329.82 L603.50 330.36 L604.47 330.85 L605.49 331.34 L606.52 331.81 L607.55 332.28 L608.59 332.73 L609.64 333.17 L610.69 333.59 L611.75 334.00 L612.82 334.39 L613.89 334.77 L614.96 335.14 L616.04 335.49 L617.13 335.83 L618.22 336.15 L619.31 336.46 L620.41 336.76 L621.51 337.03 L622.62 337.30 L623.73 337.55 L624.85 337.78 L625.96 338.00 L627.08 338.20 L628.21 338.39 L629.33 338.56 L630.46 338.72 L631.59 338.86 L632.73 338.98 L633.86 339.09 L635.00 339.19 L636.13 339.26 L637.27 339.32 L638.41 339.37 L639.55 339.40 L640.68 339.41 L641.81 339.39 L642.95 339.36 L644.09 339.31 L645.23 339.24 L646.36 339.16 L647.50 339.06 L648.63 338.94 L649.76 338.81 L650.89 338.66 L652.02 338.50 L653.14 338.32 L654.26 338.13 L655.38 337.92 L656.49 337.69 L657.60 337.45 L658.71 337.19 L659.81 336.92 L660.91 336.63 L662.00 336.32 L663.09 336.00 L664.17 335.66 L665.25 335.31 L666.32 334.95 L667.39 334.56 L668.45 334.17 L669.50 333.76 L670.55 333.33 L671.59 332.89 L672.62 332.43 L673.65 331.96 L674.67 331.48 L675.68 330.98 L676.68 330.46 L677.68 329.94 L678.67 329.40 L679.65 328.84 L680.62 328.27 L681.58 327.69 L682.53 327.09 L683.51 326.47 L684.54 325.84 L685.50 325.25 L686.44 324.64 L687.38 324.03 L688.30 323.40 L689.22 322.76 L690.13 322.10 L691.02 321.43 L691.91 320.75 L692.79 320.06 L693.66 319.36 L694.52 318.64 L695.37 317.91 L696.20 317.17 L697.03 316.42 L697.85 315.66 L698.65 314.89 L699.45 314.10 L700.23 313.31 L701.00 312.50 L701.76 311.69 L702.51 310.86 L703.24 310.02 L703.96 309.17 L704.67 308.31 L705.37 307.45 L706.06 306.57 L706.73 305.69 L707.39 304.79 L708.04 303.89 L708.68 302.98 L709.30 302.06 L709.91 301.14 L710.51 300.21 L711.10 299.26 L711.67 298.32 L712.23 297.36 L712.78 296.40 L713.31 295.43 L713.83 294.46 L714.29 293.53 L714.76 292.53 L715.22 291.53 L715.66 290.52 L716.09 289.50 L716.51 288.48 L716.91 287.46 L717.30 286.43 L717.68 285.40 L718.04 284.36 L718.39 283.32 L718.73 282.28 L719.05 281.23 L719.36 280.18 L719.65 279.13 L719.93 278.07 L720.20 277.01 L720.46 275.95 L720.70 274.89 L720.92 273.82 L721.14 272.76 L721.34 271.69 L721.52 270.62 L721.70 269.55 L721.86 268.47 L722.00 267.40 L722.14 266.32 L722.25 265.25 L722.36 264.17 L722.45 263.09 L722.54 262.02 L722.60 260.94 L722.66 259.86 L722.70 258.79 L722.72 257.71 L722.74 256.63 L722.74 255.56 L722.73 254.48 L722.71 253.41 L722.67 252.33 L722.61 251.49 L722.47 250.43 L722.31 249.36 L722.15 248.30 L721.97 247.25 L721.77 246.20 L721.57 245.15 L721.35 244.10 L721.13 243.06 L720.89 242.03 L720.63 241.00 L720.37 239.97 L720.09 238.95 L719.81 237.94 L719.51 236.93 L719.20 235.92 L718.88 234.92 L718.54 233.92 L718.20 232.93 L717.84 231.95 L717.48 230.97 L717.11 229.99 L716.72 229.02 L716.33 228.06 L715.92 227.10 L715.51 226.15 L715.08 225.21 L714.64 224.27 L714.20 223.34 L713.74 222.41 L713.27 221.49 L712.79 220.58 L712.30 219.67 L711.81 218.77 L711.30 217.88 L710.78 216.99 L710.25 216.11 L709.72 215.24 L709.17 214.38 L708.61 213.52 L708.05 212.68 L707.49 211.84 L706.91 211.00 L706.32 210.17 L705.73 209.34 L705.12 208.53 L704.51 207.72 L703.88 206.92 L703.25 206.13 L702.61 205.35 L701.96 204.57 L701.30 203.81 L700.63 203.05 L706.46 203.91Z" fill="#14ae50"/>
</svg>
<div class="t title" style="left:98px;top:13.00px;font-size:47px;">Quality Control Flowchart</div>
<div class="t lbl" style="left:97px;top:234.20px;font-size:34px;">Inputs</div>
<div class="t lbl" style="left:327px;top:222.00px;font-size:33px;letter-spacing:0.6px;">Tools and</div>
<div class="t lbl" style="left:317px;top:259.20px;font-size:33px;letter-spacing:0.75px;">Techniques</div>
<div class="t lbl" style="left:578px;top:235.50px;font-size:34px;">Outputst</div>
<div class="t lst" style="left:47px;top:348.60px;font-size:23.5px;">Work Results</div>
<div class="t lst" style="left:47px;top:376.60px;font-size:23.5px;">Checklists</div>
<div class="t lst" style="left:47px;top:404.60px;font-size:23.5px;">Operational Definitions</div>
<div class="t lst" style="left:47px;top:432.60px;font-size:23.5px;">Quality Management</div>
<div class="t lst" style="left:47px;top:460.60px;font-size:23.5px;">Plan</div>
<div class="t lst" style="left:326px;top:346.80px;font-size:23.5px;">Inspection</div>
<div class="t lst" style="left:326px;top:374.30px;font-size:23.5px;">Control Charts</div>
<div class="t lst" style="left:326px;top:401.80px;font-size:23.5px;">Pareto Diagram</div>
<div class="t lst" style="left:326px;top:429.30px;font-size:23.5px;">Statistical Sampling</div>
<div class="t lst" style="left:326px;top:456.80px;font-size:23.5px;">Flowcharting</div>
<div class="t lst" style="left:552px;top:349.90px;font-size:23.5px;">Quality Improvement</div>
<div class="t lst" style="left:552px;top:376.90px;font-size:23.5px;">Acceptance Decisions</div>
<div class="t lst" style="left:552px;top:403.90px;font-size:23.5px;">Rework</div>
<div class="t lst" style="left:552px;top:430.90px;font-size:23.5px;">Process Adjustments</div>
</body></html>
